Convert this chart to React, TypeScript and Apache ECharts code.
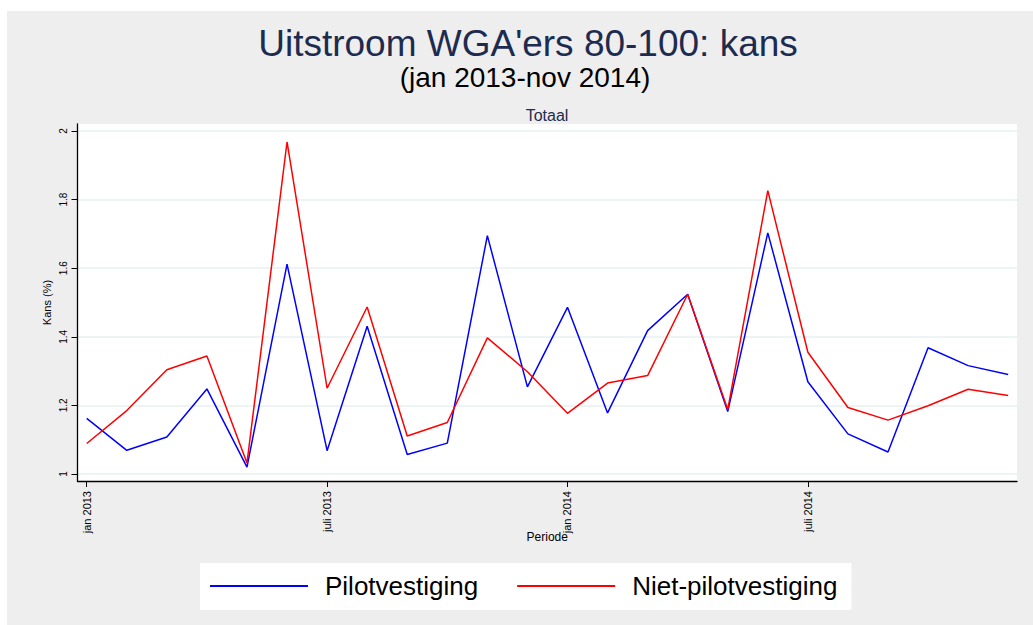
import React, { useEffect, useRef } from "react";
import * as echarts from "echarts";

const months: string[] = [
  "jan 2013", "feb 2013", "mrt 2013", "apr 2013", "mei 2013", "jun 2013",
  "juli 2013", "aug 2013", "sep 2013", "okt 2013", "nov 2013", "dec 2013",
  "jan 2014", "feb 2014", "mrt 2014", "apr 2014", "mei 2014", "jun 2014",
  "juli 2014", "aug 2014", "sep 2014", "okt 2014", "nov 2014", "dec 2014",
];

const pilotvestiging: number[] = [
  1.162, 1.069, 1.108, 1.248, 1.02, 1.612, 1.068, 1.431, 1.057, 1.09, 1.695, 1.254,
  1.486, 1.178, 1.418, 1.524, 1.182, 1.703, 1.269, 1.117, 1.064, 1.368, 1.316, 1.29,
];

const nietPilotvestiging: number[] = [
  1.089, 1.185, 1.304, 1.344, 1.032, 1.968, 1.25, 1.487, 1.111, 1.15, 1.397, 1.298,
  1.177, 1.265, 1.287, 1.524, 1.188, 1.826, 1.355, 1.194, 1.157, 1.199, 1.247, 1.229,
];

const xTickIndex: number[] = [0, 6, 12, 18];
const yTickValues: number[] = [1, 1.2, 1.4, 1.6, 1.8, 2];

const FONT = "'Liberation Sans', Arial, Helvetica, sans-serif";

export default function App() {
  const ref = useRef<HTMLDivElement>(null);

  useEffect(() => {
    if (!ref.current) return;
    const chart = echarts.init(ref.current, null, { renderer: "svg" });
    const toPoints = (arr: number[]) => arr.map((v, i) => [i, v]);

    chart.setOption({
      animation: false,
      backgroundColor: "#ffffff",
      textStyle: { fontFamily: FONT },
      graphic: [
        {
          type: "rect",
          z: -10,
          silent: true,
          shape: { x: 7, y: 11, width: 1026, height: 614 },
          style: { fill: "#eeeeee" },
        },
      ],
      title: [
        {
          text: "Uitstroom WGA'ers 80-100: kans",
          left: 528,
          top: 23,
          textAlign: "center",
          padding: 0,
          textStyle: {
            fontFamily: FONT,
            fontSize: 37,
            fontWeight: "normal",
            color: "#1e2b50",
            lineHeight: 40,
          },
        },
        {
          text: "(jan 2013-nov 2014)",
          left: 525,
          top: 62,
          textAlign: "center",
          padding: 0,
          textStyle: {
            fontFamily: FONT,
            fontSize: 28,
            fontWeight: "normal",
            color: "#000000",
            lineHeight: 30,
          },
        },
        {
          text: "Totaal",
          left: 547,
          top: 106,
          textAlign: "center",
          padding: 0,
          textStyle: {
            fontFamily: FONT,
            fontSize: 16,
            fontWeight: "normal",
            color: "#1e2b50",
            lineHeight: 18,
          },
        },
      ],
      legend: {
        left: 200,
        top: 563,
        orient: "horizontal",
        backgroundColor: "#ffffff",
        padding: [8, 14, 9, 10],
        icon: "rect",
        itemWidth: 98,
        itemHeight: 2,
        itemGap: 39,
        textStyle: {
          fontFamily: FONT,
          fontSize: 26,
          color: "#000000",
          padding: [0, 0, 0, 12],
          lineHeight: 30,
        },
        data: ["Pilotvestiging", "Niet-pilotvestiging"],
      },
      grid: {
        left: 77.5,
        right: 16,
        top: 124,
        bottom: 144,
        show: true,
        backgroundColor: "#ffffff",
        borderWidth: 0,
        containLabel: false,
      },
      xAxis: {
        type: "value",
        min: -0.23,
        max: 23.22,
        name: "Periode",
        nameLocation: "middle",
        nameGap: 50,
        nameMoveOverlap: false,
        nameTextStyle: { fontFamily: FONT, fontSize: 12, color: "#000" },
        axisLine: { show: true, onZero: false, lineStyle: { color: "#000", width: 1.3 } },
        axisTick: {
          show: true,
          length: 6,
          customValues: xTickIndex,
          lineStyle: { color: "#000", width: 1 },
        },
        axisLabel: {
          customValues: xTickIndex,
          rotate: 90,
          margin: 10,
          fontFamily: FONT,
          fontSize: 11,
          color: "#000",
          formatter: (v: number) => months[Math.round(v)] ?? "",
        },
        splitLine: { show: false },
      },
      yAxis: {
        type: "value",
        min: 0.9796,
        max: 2.0204,
        name: "Kans (%)",
        nameLocation: "middle",
        nameRotate: 90,
        nameGap: 25,
        nameMoveOverlap: false,
        nameTextStyle: { fontFamily: FONT, fontSize: 11, color: "#000" },
        axisLine: { show: true, onZero: false, lineStyle: { color: "#000", width: 1.3 } },
        axisTick: {
          show: true,
          length: 6,
          customValues: yTickValues,
          lineStyle: { color: "#000", width: 1 },
        },
        axisLabel: {
          customValues: yTickValues,
          rotate: 90,
          margin: 9,
          fontFamily: FONT,
          fontSize: 10,
          color: "#000",
          formatter: (v: number) => String(Math.round(v * 10) / 10),
        },
        splitLine: { show: true, lineStyle: { color: "#e7f0f1", width: 1.5 } },
      },
      series: [
        {
          name: "Pilotvestiging",
          type: "line",
          data: toPoints(pilotvestiging),
          showSymbol: false,
          symbol: "none",
          lineStyle: { color: "#0000ff", width: 1.5 },
          itemStyle: { color: "#0000ff" },
        },
        {
          name: "Niet-pilotvestiging",
          type: "line",
          data: toPoints(nietPilotvestiging),
          showSymbol: false,
          symbol: "none",
          lineStyle: { color: "#ff0000", width: 1.5 },
          itemStyle: { color: "#ff0000" },
        },
      ],
    });

    return () => chart.dispose();
  }, []);

  return (
    <div
      ref={ref}
      style={{ position: "absolute", left: 0, top: 0, width: 1033, height: 625 }}
    />
  );
}
